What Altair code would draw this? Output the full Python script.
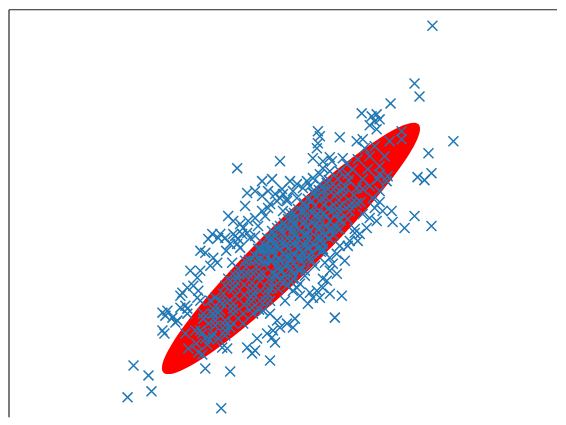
import altair as alt
import pandas as pd

# Scatter sample values (x to the right, y upward)
outer_x = [433, 415, 420, 391, 362, 372, 377, 380, 375, 370, 377, 402, 402, 454, 429, 418, 425, 432, 388, 380,
           340, 357, 363, 365, 318, 320, 318, 317, 313, 330, 332, 323, 343, 347, 323, 330, 280, 237, 247, 290,
           297, 307, 313, 320, 280, 287, 283, 290, 270, 277, 283, 287, 293, 297, 303, 310, 313, 320, 327, 262,
           268, 275, 282, 268, 262, 265, 255, 248, 243, 242, 235, 225, 212, 208, 218, 233, 240, 237, 230, 240,
           250, 220, 233, 238, 247, 255, 200, 205, 213, 217, 210, 190, 197, 200, 193, 198, 187, 197, 200, 182,
           185, 187, 180, 180, 187, 162, 167, 165, 172, 177, 175, 162, 164, 185, 195, 202, 205, 198, 202, 212,
           218, 215, 203, 208, 215, 222, 225, 230, 213, 222, 227, 133, 148, 151, 127, 221, 205, 230, 247, 252,
           255, 257, 267, 270, 275, 272, 263, 270, 277, 280, 273, 287, 295, 293, 308, 335, 310, 313, 320, 330,
           342, 317, 323, 323, 297, 300, 293, 330, 333, 337, 345, 350, 358, 348, 323, 330, 337, 327, 367, 393,
           405, 432, 415, 392, 373, 380, 383, 370, 377, 363, 375, 387, 380, 355, 360,
           255, 262, 272, 245, 228, 258, 226, 232, 305, 315, 300, 285, 325, 340, 355]
outer_y = [406, 348, 335, 328, 318, 315, 317, 312, 310, 306, 302, 300, 292, 290, 278, 254, 251, 258, 255, 257,
           294, 290, 292, 283, 300, 295, 288, 283, 273, 274, 270, 270, 273, 267, 263, 260, 270, 263, 238, 250,
           247, 250, 253, 257, 233, 230, 220, 218, 227, 230, 237, 232, 240, 233, 243, 245, 238, 247, 248, 235,
           240, 237, 242, 223, 220, 215, 213, 210, 203, 197, 195, 193, 197, 192, 193, 210, 207, 187, 187, 183,
           193, 197, 197, 192, 198, 195, 180, 178, 173, 168, 165, 160, 153, 160, 145, 140, 143, 133, 130, 138,
           125, 122, 135, 123, 117, 118, 120, 115, 113, 110, 108, 100, 97, 97, 100, 97, 92, 78, 76, 117,
           118, 110, 112, 107, 133, 127, 100, 103, 97, 83, 82, 65, 55, 39, 33, 22, 62, 59, 83, 77,
           80, 92, 97, 70, 88, 93, 120, 117, 110, 103, 100, 107, 112, 103, 127, 113, 138, 133, 133, 137,
           135, 140, 143, 152, 143, 147, 140, 160, 167, 177, 170, 190, 190, 185, 180, 173, 157, 150, 203, 209,
           203, 205, 215, 220, 233, 229, 220, 213, 210, 217, 223, 250, 240, 202, 197,
           240, 250, 252, 225, 215, 205, 180, 168, 155, 165, 135, 130, 168, 185, 198]

core_x = [188, 196, 207, 212, 218, 203, 215, 225, 213, 225, 210, 220, 233, 220, 233, 243, 223, 233, 243, 225,
          235, 244, 253, 228, 235, 244, 251, 259, 235, 244, 253, 260, 238, 244, 252, 260, 270, 246, 253, 260,
          268, 249, 256, 263, 269, 278, 255, 264, 272, 280, 258, 264, 271, 278, 284, 291, 265, 272, 279, 285,
          293, 267, 273, 279, 286, 293, 300, 274, 280, 288, 294, 301, 277, 283, 290, 295, 302, 309, 285, 292,
          299, 305, 312, 288, 294, 301, 308, 314, 321, 296, 303, 310, 317, 323, 298, 305, 312, 319, 325, 305,
          312, 319, 326, 334, 308, 315, 323, 330, 337, 316, 324, 331, 339, 319, 326, 334, 341, 348, 328, 335,
          343, 350, 329, 336, 344, 352, 338, 346, 354, 361, 340, 349, 357, 353, 363, 370, 358, 368, 378, 370,
          380, 375, 385, 390, 235, 251, 248, 268, 255, 274, 265, 285, 264, 278, 293, 273, 288, 273, 290, 305,
          285, 302, 280, 295, 309, 293, 307, 293, 308, 323, 305, 320, 305, 320, 318, 333, 322, 337, 337, 350,
          239, 253, 265, 245, 259, 272, 260, 276, 287, 260, 271, 282, 269, 279, 292, 270, 278, 290, 300, 272,
          286, 299, 282, 299, 312, 284, 295, 309, 294, 305, 319, 294, 307, 321, 302, 316, 329, 304, 316, 330,
          312, 327, 340, 314, 329, 341, 324, 340, 343, 357, 348, 363, 233, 227, 233, 252, 200, 209, 213, 225]
core_y = [82, 87, 86, 94, 92, 117, 105, 95, 117, 105, 130, 120, 107, 130, 117, 107, 137, 127, 117, 145,
          135, 126, 117, 152, 145, 136, 129, 121, 155, 146, 137, 130, 162, 156, 148, 140, 130, 164, 157, 150,
          142, 171, 164, 157, 151, 142, 175, 166, 158, 150, 182, 176, 169, 162, 156, 149, 185, 178, 171, 165,
          157, 193, 187, 181, 174, 167, 160, 196, 190, 182, 176, 169, 203, 197, 190, 185, 178, 171, 205, 198,
          191, 185, 178, 212, 206, 199, 192, 186, 179, 214, 207, 200, 193, 187, 222, 215, 208, 201, 195, 225,
          218, 211, 204, 196, 232, 225, 217, 210, 203, 234, 226, 219, 211, 241, 234, 226, 219, 212, 242, 235,
          227, 220, 251, 244, 236, 228, 252, 244, 236, 229, 260, 251, 243, 262, 252, 245, 272, 262, 252, 275,
          265, 285, 275, 290, 150, 134, 157, 137, 170, 151, 170, 150, 181, 167, 152, 182, 167, 192, 175, 160,
          190, 173, 205, 190, 176, 202, 188, 212, 197, 182, 210, 195, 220, 205, 217, 202, 233, 218, 238, 225,
          156, 142, 130, 170, 156, 143, 172, 156, 145, 182, 171, 160, 183, 173, 160, 192, 184, 172, 162, 200,
          186, 173, 200, 183, 170, 208, 197, 183, 208, 197, 183, 218, 205, 191, 220, 206, 193, 228, 216, 202,
          230, 215, 202, 238, 223, 211, 241, 225, 242, 228, 257, 242, 122, 128, 142, 123, 100, 91, 122, 110]

# Covariance ellipse centre (same units)
ellipse_x = [291]
ellipse_y = [182.5]

X_DOMAIN = [8, 558]
Y_DOMAIN = [13, 422]
W, H = 550, 409

xs = alt.Scale(domain=X_DOMAIN, nice=False, zero=False)
ys = alt.Scale(domain=Y_DOMAIN, nice=False, zero=False)

pts = pd.DataFrame({"x": outer_x + core_x, "y": outer_y + core_y})
ell = pd.DataFrame({"x": ellipse_x, "y": ellipse_y})

ELLIPSE_PATH = "M -1 0 A 1 0.157 0 1 0 1 0 A 1 0.157 0 1 0 -1 0 Z"
X_PATH = "M -1 -1 L 1 1 M -1 1 L 1 -1"

ellipse = alt.Chart(ell).mark_point(
    shape=ELLIPSE_PATH, filled=True, color="#ff0000", opacity=1,
    size=127600, angle=315.8, strokeWidth=0
).encode(
    x=alt.X("x:Q", scale=xs, axis=None),
    y=alt.Y("y:Q", scale=ys, axis=None),
)

scatter = alt.Chart(pts).mark_point(
    shape=X_PATH, filled=False, color="#1f77b4", opacity=1, size=100, strokeWidth=1.5
).encode(
    x=alt.X("x:Q", scale=xs, axis=None),
    y=alt.Y("y:Q", scale=ys, axis=None),
)

frame_df = pd.DataFrame({"a": [0]})
left_border = alt.Chart(frame_df).mark_rule(color="#222222", strokeWidth=1.2).encode(
    x=alt.value(0), y=alt.value(0), y2=alt.value(H)
)
top_border = alt.Chart(frame_df).mark_rule(color="#222222", strokeWidth=1.2).encode(
    x=alt.value(0), x2=alt.value(W), y=alt.value(0)
)

chart = alt.layer(ellipse, scatter, left_border, top_border).properties(
    width=W, height=H, padding=0
).configure_view(stroke=None)

chart.save("out.html", embed_options={"renderer": "svg", "actions": False})
